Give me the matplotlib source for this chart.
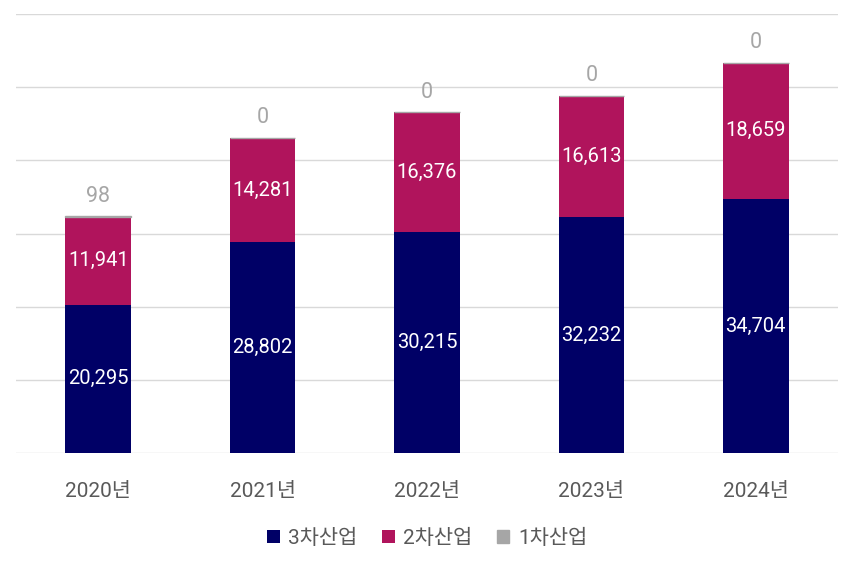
import matplotlib
matplotlib.use("Agg")
import matplotlib.pyplot as plt
import numpy as np

plt.rcParams["font.family"] = ["Roboto", "Noto Sans CJK KR", "DejaVu Sans"]

years = ["2020년", "2021년", "2022년", "2023년", "2024년"]
tertiary = [20295, 28802, 30215, 32232, 34704]
secondary = [11941, 14281, 16376, 16613, 18659]
primary = [98, 0, 0, 0, 0]

NAVY = "#000066"
CRIMSON = "#b0145c"
GRAY = "#a6a6a6"

fig = plt.figure(figsize=(8.54, 5.68), dpi=100)
ax = fig.add_axes([16 / 854, 1 - 453 / 568, 822 / 854, 439 / 568])

x = np.arange(len(years))
w = 0.4
ax.bar(x, tertiary, w, color=NAVY, label="3차산업", zorder=3)
ax.bar(x, secondary, w, bottom=tertiary, color=CRIMSON, label="2차산업", zorder=3)
bottom2 = np.array(tertiary) + np.array(secondary)
ax.bar(x, primary, w, bottom=bottom2, color=GRAY, edgecolor=GRAY, lw=1.0,
       label="1차산업", zorder=3)

for i in range(len(years)):
    ax.text(x[i], tertiary[i] / 2, f"{tertiary[i]:,}", ha="center", va="center",
            color="white", fontsize=14.5, zorder=4)
    ax.text(x[i], tertiary[i] + secondary[i] / 2, f"{secondary[i]:,}", ha="center",
            va="center", color="white", fontsize=14.5, zorder=4)
    ax.text(x[i], bottom2[i] + primary[i] + 1300, f"{primary[i]:,}", ha="center",
            va="bottom", color=GRAY, fontsize=15.5, zorder=4)

ax.set_xlim(-0.5, len(years) - 0.5)
ax.set_ylim(0, 60000)
ax.set_yticks(np.arange(0, 60001, 10000))
ax.yaxis.grid(True, color="#d9d9d9", lw=1, zorder=0)
ax.tick_params(axis="y", left=False, labelleft=False)
ax.set_xticks(x)
ax.set_xticklabels(years, fontsize=15, color="#595959")
ax.tick_params(axis="x", length=0, pad=21)
for sp in ax.spines.values():
    sp.set_visible(False)

leg = fig.legend(loc="center", bbox_to_anchor=(0.5, 1 - 538 / 568), ncol=3,
                 frameon=False, fontsize=15, handlelength=0.6, handleheight=0.6,
                 handletextpad=0.4, columnspacing=1.2, labelcolor="#595959")

fig.savefig("out.png", dpi=100, facecolor="white")
